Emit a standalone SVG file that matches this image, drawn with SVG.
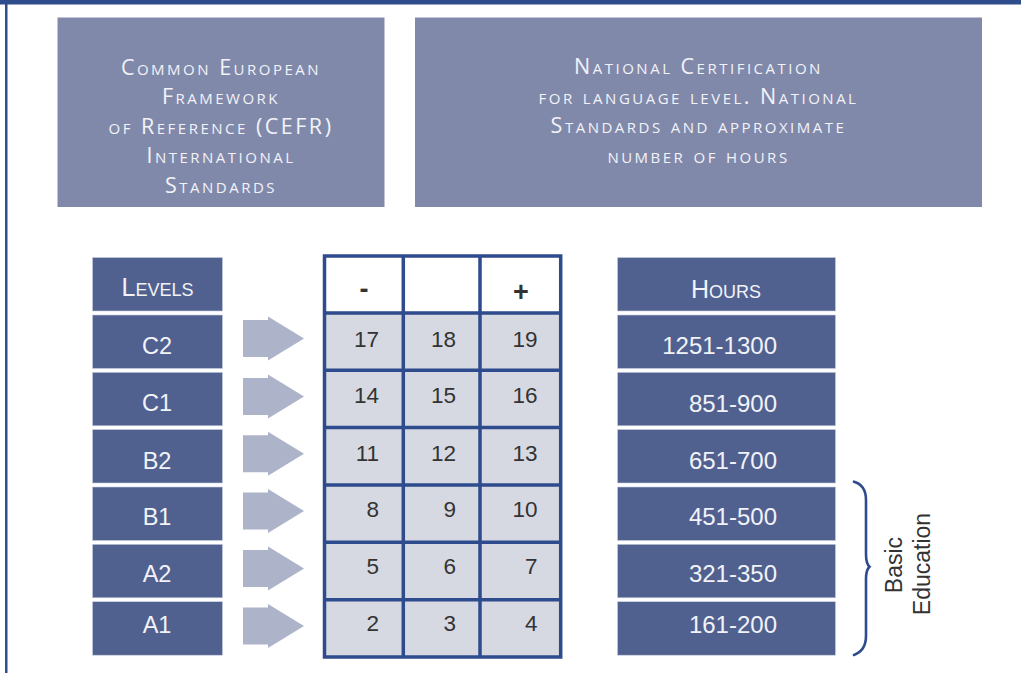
<svg xmlns="http://www.w3.org/2000/svg" width="1021" height="673" viewBox="0 0 1021 673">
<style>
.bg{fill:#ffffff}
.frame{fill:#2f4c8c}
.topbox{fill:#8189ab}
.toptxt{font-family:"Open Sans","DejaVu Sans",sans-serif;font-variant:small-caps;font-size:21.5px;letter-spacing:2.5px;fill:#f2f3f8;text-anchor:middle}
.box{fill:#506190;stroke:#c9cfe0;stroke-width:0.6}
.hdr{font-family:"Liberation Sans",Arial,sans-serif;font-variant:small-caps;font-size:25px;fill:#f2f3f8;text-anchor:middle}
.lbl{font-family:"Liberation Sans",Arial,sans-serif;font-size:23.5px;fill:#f2f3f8;text-anchor:middle}
.hrs{font-family:"Liberation Sans",Arial,sans-serif;font-size:24px;fill:#f2f3f8;text-anchor:end}
.num{font-family:"Liberation Sans",Arial,sans-serif;font-size:22.5px;fill:#333333;text-anchor:end}
.sign{font-family:"Liberation Sans",Arial,sans-serif;font-size:27px;font-weight:bold;fill:#333333;text-anchor:middle}
.arrow{fill:#adb3c8}
.grid{fill:none;stroke:#2e4b8e;stroke-width:3.5}
.brace{fill:none;stroke:#2e4b8e;stroke-width:2.6;stroke-linecap:round}
.side{font-family:"Liberation Sans",Arial,sans-serif;font-size:23px;fill:#333333;text-anchor:middle}
</style>
<rect class="bg" x="0" y="0" width="1021" height="673"/>
<g id="frame">
<rect class="frame" x="0" y="0" width="1021" height="4.5"/>
<rect class="frame" x="5" y="0" width="2.5" height="673"/>
</g>

<g id="cefr-header">
<rect class="topbox" x="57.5" y="17.5" width="327" height="189.5"/>
<text class="toptxt" x="221" y="74.5">Common European</text>
<text class="toptxt" x="221" y="104">Framework</text>
<text class="toptxt" x="221" y="133.5">of Reference (CEFR)</text>
<text class="toptxt" x="221" y="163">International</text>
<text class="toptxt" x="221" y="192.5">Standards</text>
</g>

<g id="national-header">
<rect class="topbox" x="415" y="17.5" width="567" height="189.5"/>
<text class="toptxt" x="698.5" y="74">National Certification</text>
<text class="toptxt" x="698.5" y="103.5">for language level. National</text>
<text class="toptxt" x="698.5" y="133">Standards and approximate</text>
<text class="toptxt" x="698.5" y="162.5">number of hours</text>
</g>

<g id="levels">
<g id="levels-header"><rect class="box" x="92.5" y="257.5" width="130" height="53.5"/><text class="hdr" x="157.5" y="296">Levels</text></g>
<g id="level-C2"><rect class="box" x="92.5" y="315" width="130" height="53.5"/><text class="lbl" x="157" y="354">C2</text></g>
<g id="level-C1"><rect class="box" x="92.5" y="372.3" width="130" height="53.5"/><text class="lbl" x="157" y="411.3">C1</text></g>
<g id="level-B2"><rect class="box" x="92.5" y="429.5" width="130" height="53.5"/><text class="lbl" x="157" y="468.5">B2</text></g>
<g id="level-B1"><rect class="box" x="92.5" y="487" width="130" height="53.5"/><text class="lbl" x="157" y="524.5">B1</text></g>
<g id="level-A2"><rect class="box" x="92.5" y="544.3" width="130" height="53.5"/><text class="lbl" x="157" y="581.7">A2</text></g>
<g id="level-A1"><rect class="box" x="92.5" y="601.7" width="130" height="53.5"/><text class="lbl" x="157" y="632.7">A1</text></g>
</g>

<g id="connectors">
<path class="arrow" d="M243,320 H268 V316.5 L304,338.5 L268,360.5 V357 H243 Z"/>
<path class="arrow" d="M243,378 H268 V374.5 L304,396.5 L268,418.5 V415 H243 Z"/>
<path class="arrow" d="M243,435.2 H268 V431.7 L304,453.7 L268,475.7 V472.2 H243 Z"/>
<path class="arrow" d="M243,492.5 H268 V489 L304,511 L268,533 V529.5 H243 Z"/>
<path class="arrow" d="M243,550 H268 V546.5 L304,568.5 L268,590.5 V587 H243 Z"/>
<path class="arrow" d="M243,607.5 H268 V604 L304,626 L268,648 V644.5 H243 Z"/>
</g>

<g id="scale-table">
<rect x="324.5" y="256" width="236.2" height="57" fill="#ffffff"/>
<rect x="324.5" y="313" width="236.2" height="344" fill="#d6d9e2"/>
<rect class="grid" x="324.5" y="256" width="236.2" height="401"/>
<path class="grid" d="M403.3,256 V657 M480,256 V657 M324.5,313 H560.7 M324.5,370.3 H560.7 M324.5,427.6 H560.7 M324.5,485 H560.7 M324.5,542.3 H560.7 M324.5,599.7 H560.7"/>
<text class="sign" x="364" y="298">-</text>
<text class="sign" x="521" y="301">+</text>
<text class="num" x="379" y="346.7">17</text><text class="num" x="456" y="346.7">18</text><text class="num" x="537.5" y="346.7">19</text>
<text class="num" x="379" y="403.3">14</text><text class="num" x="456" y="403.3">15</text><text class="num" x="537.5" y="403.3">16</text>
<text class="num" x="379" y="460.7">11</text><text class="num" x="456" y="460.7">12</text><text class="num" x="537.5" y="460.7">13</text>
<text class="num" x="379" y="516.7">8</text><text class="num" x="456" y="516.7">9</text><text class="num" x="537.5" y="516.7">10</text>
<text class="num" x="379" y="574">5</text><text class="num" x="456" y="574">6</text><text class="num" x="537.5" y="574">7</text>
<text class="num" x="379" y="630.7">2</text><text class="num" x="456" y="630.7">3</text><text class="num" x="537.5" y="630.7">4</text>
</g>

<g id="hours">
<g id="hours-header"><rect class="box" x="617.5" y="257.5" width="218" height="53.5"/><text class="hdr" x="726" y="298">Hours</text></g>
<g id="hours-C2"><rect class="box" x="617.5" y="315" width="218" height="53.5"/><text class="hrs" x="777" y="354">1251-1300</text></g>
<g id="hours-C1"><rect class="box" x="617.5" y="372.3" width="218" height="53.5"/><text class="hrs" x="777" y="411.5">851-900</text></g>
<g id="hours-B2"><rect class="box" x="617.5" y="429.5" width="218" height="53.5"/><text class="hrs" x="777" y="469.3">651-700</text></g>
<g id="hours-B1"><rect class="box" x="617.5" y="487" width="218" height="53.5"/><text class="hrs" x="777" y="525">451-500</text></g>
<g id="hours-A2"><rect class="box" x="617.5" y="544.3" width="218" height="53.5"/><text class="hrs" x="777" y="581.7">321-350</text></g>
<g id="hours-A1"><rect class="box" x="617.5" y="601.7" width="218" height="53.5"/><text class="hrs" x="777" y="632.7">161-200</text></g>
</g>

<g id="basic-education">
<path class="brace" d="M854,481.7 C862,484 866,490 866,500 L866,554 C866,561 867.5,565 869.5,566.7 C867.5,568.5 866,572 866,579 L866,636 C866,646 862,652 854,655"/>
<text class="side" transform="translate(901.7,565) rotate(-90)">Basic</text>
<text class="side" transform="translate(930,564) rotate(-90)">Education</text>
</g>
</svg>
